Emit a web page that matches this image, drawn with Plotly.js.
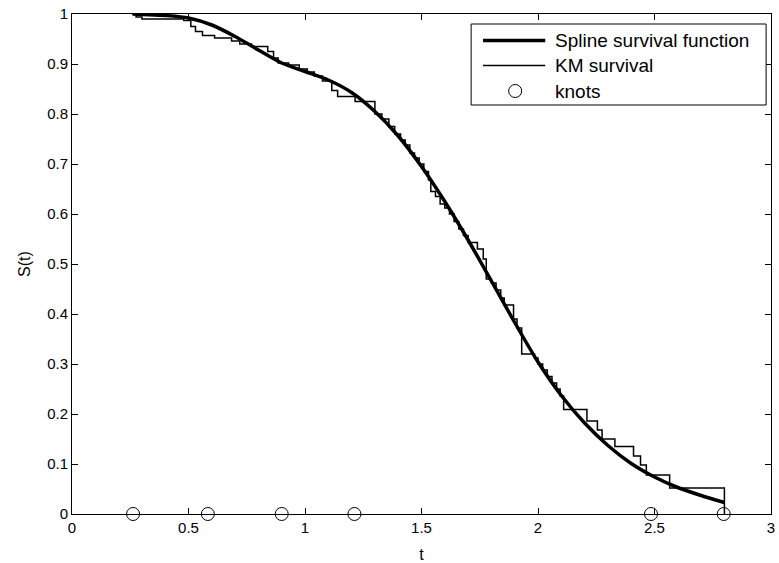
<!DOCTYPE html>
<html>
<head>
<meta charset="utf-8">
<script src="https://cdn.plot.ly/plotly-3.0.1.min.js"></script>
<style>html,body{margin:0;padding:0;background:#fff;}#chart{width:779px;height:563px;}</style>
</head>
<body>
<div id="chart"></div>
<script>
// Spline survival function
var splineT = [0.26,0.3,0.4,0.5,0.6,0.7,0.8,0.9,1.0,1.1,1.2,1.3,1.4,1.5,1.6,1.7,1.8,1.9,2.0,2.1,2.2,2.3,2.4,2.5,2.6,2.7,2.8];
var splineS = [1.0,0.999,0.997,0.992,0.978,0.955,0.928,0.902,0.885,0.868,0.843,0.805,0.756,0.695,0.625,0.548,0.466,0.383,0.304,0.237,0.182,0.137,0.101,0.074,0.053,0.037,0.023];

// Kaplan-Meier survival (event times and survival after each event)
var kmT = [0.257,0.275,0.300,0.480,0.510,0.530,0.560,0.612,0.685,0.720,0.770,0.840,0.865,0.885,0.930,0.975,1.010,1.040,1.075,1.115,1.140,1.215,1.300,1.330,1.360,1.385,1.410,1.430,1.450,1.470,1.490,1.510,1.530,1.540,1.560,1.580,1.600,1.620,1.640,1.660,1.680,1.700,1.740,1.765,1.778,1.800,1.820,1.840,1.855,1.895,1.910,1.930,1.985,2.000,2.020,2.040,2.060,2.080,2.095,2.110,2.210,2.255,2.275,2.330,2.410,2.440,2.465,2.565,2.800];
var kmS = [1.000,0.994,0.990,0.987,0.975,0.965,0.957,0.952,0.946,0.940,0.935,0.925,0.912,0.902,0.898,0.890,0.884,0.876,0.866,0.847,0.835,0.825,0.800,0.790,0.775,0.760,0.748,0.738,0.722,0.712,0.700,0.685,0.668,0.645,0.635,0.620,0.612,0.600,0.585,0.570,0.557,0.543,0.530,0.510,0.470,0.462,0.448,0.432,0.418,0.390,0.372,0.320,0.312,0.300,0.288,0.275,0.262,0.250,0.236,0.209,0.186,0.168,0.150,0.135,0.116,0.098,0.078,0.052,0.000];

// Knots
var knotT = [0.262,0.583,0.900,1.212,2.485,2.797];
var knotS = [0,0,0,0,0,0];

var xTicks = [0,0.5,1,1.5,2,2.5,3];
var yTicks = [0,0.1,0.2,0.3,0.4,0.5,0.6,0.7,0.8,0.9,1];

var legendNames = ['Spline survival function', 'KM survival', 'knots'];

var FONT = 'Liberation Sans, Arial, sans-serif';

var traces = [
  {x: splineT, y: splineS, mode: 'lines', name: legendNames[0],
   line: {color: '#000', width: 3.5, shape: 'spline', smoothing: 0.8}},
  {x: kmT, y: kmS, mode: 'lines', name: legendNames[1],
   line: {color: '#000', width: 1.5, shape: 'hv'}},
  {x: knotT, y: knotS, mode: 'markers', name: legendNames[2], cliponaxis: false,
   marker: {symbol: 'circle-open', size: 13, color: '#000', line: {width: 1, color: '#000'}}}
];

var axisCommon = {
  showline: true, linecolor: '#000', linewidth: 1, mirror: 'allticks',
  ticks: 'inside', ticklen: 6, tickcolor: '#000', tickwidth: 1,
  showgrid: false, zeroline: false,
  tickfont: {family: FONT, size: 15, color: '#000'}
};

// MATLAB-style legend box drawn in paper coordinates
var rowY = [0.947, 0.897, 0.846];
var shapes = [
  {type: 'rect', xref: 'paper', yref: 'paper', x0: 0.571, x1: 0.993, y0: 0.818, y1: 0.98,
   line: {color: '#000', width: 1}, fillcolor: '#fff', layer: 'above'},
  {type: 'line', xref: 'paper', yref: 'paper', x0: 0.588, x1: 0.677, y0: rowY[0], y1: rowY[0],
   line: {color: '#000', width: 3.5}, layer: 'above'},
  {type: 'line', xref: 'paper', yref: 'paper', x0: 0.588, x1: 0.677, y0: rowY[1], y1: rowY[1],
   line: {color: '#000', width: 1.5}, layer: 'above'},
  {type: 'circle', xref: 'paper', yref: 'paper', xsizemode: 'pixel', ysizemode: 'pixel',
   xanchor: 0.634, yanchor: rowY[2], x0: -6.5, x1: 6.5, y0: -6.5, y1: 6.5,
   line: {color: '#000', width: 1}, layer: 'above'}
];
var annotations = legendNames.map(function (n, i) {
  return {text: n, xref: 'paper', yref: 'paper', x: 0.688, y: rowY[i],
          xanchor: 'left', yanchor: 'middle', showarrow: false,
          font: {family: FONT, size: 19, color: '#000'}};
});

var layout = {
  width: 779, height: 563,
  margin: {l: 72, r: 8, t: 14, b: 49},
  paper_bgcolor: '#fff', plot_bgcolor: '#fff',
  font: {family: FONT, color: '#000'},
  showlegend: false,
  shapes: shapes,
  annotations: annotations,
  xaxis: Object.assign({}, axisCommon, {
    range: [0, 3], tickvals: xTicks, ticktext: xTicks.map(String),
    title: {text: 't', font: {family: FONT, size: 16, color: '#000'}, standoff: 13}
  }),
  yaxis: Object.assign({}, axisCommon, {
    range: [0, 1], tickvals: yTicks, ticktext: yTicks.map(String),
    title: {text: 'S(t)', font: {family: FONT, size: 16, color: '#000'}, standoff: 12}
  })
};

Plotly.newPlot('chart', traces, layout, {displayModeBar: false, staticPlot: true});
</script>
</body>
</html>
